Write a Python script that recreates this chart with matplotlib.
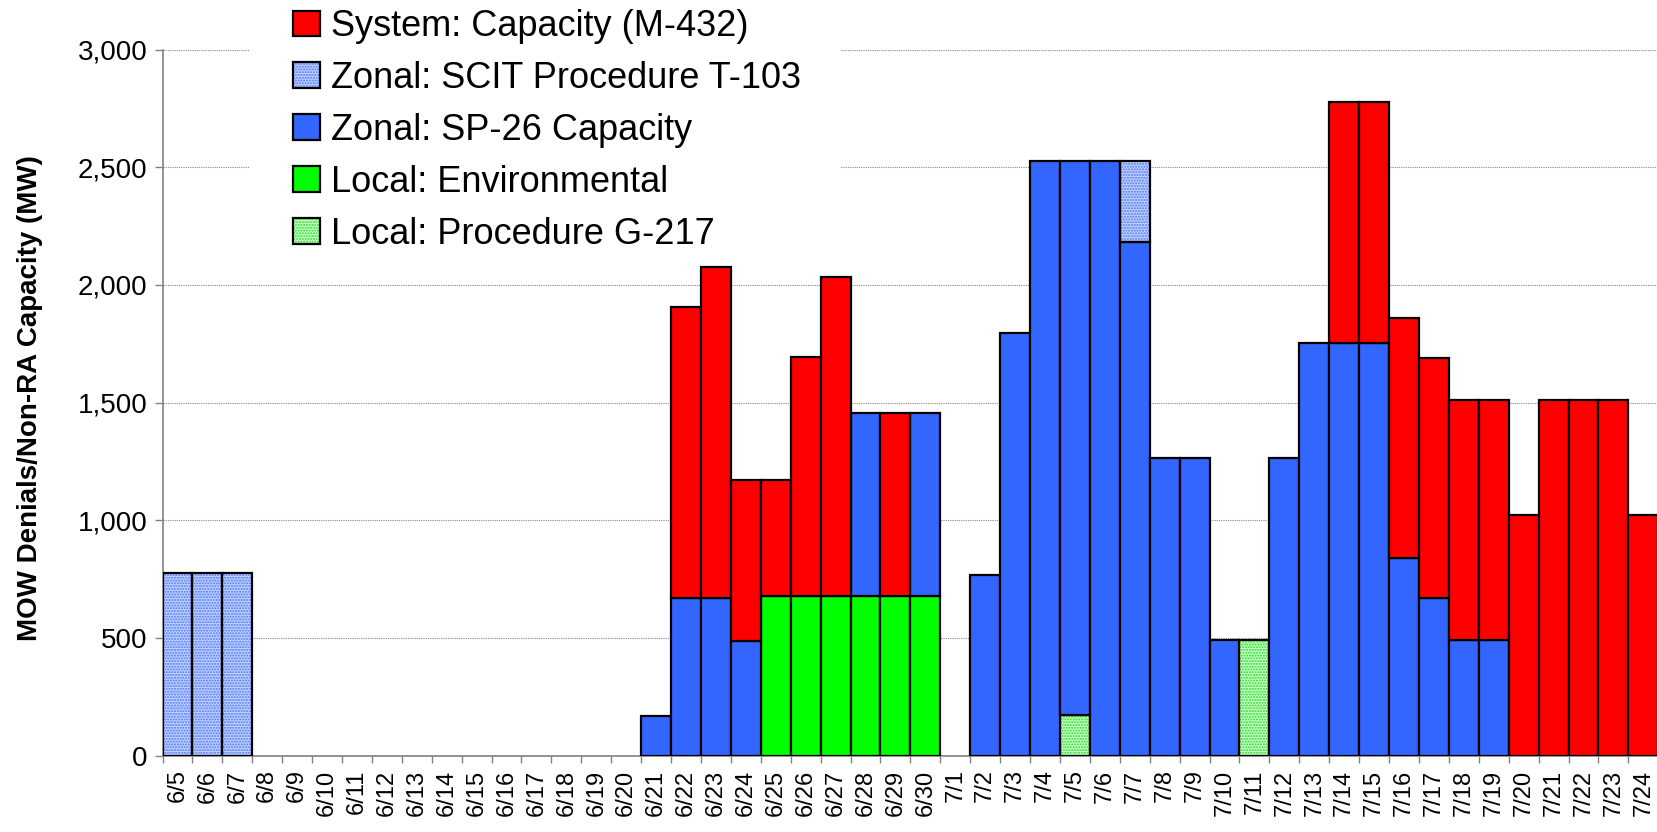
import matplotlib
matplotlib.use("Agg")
import matplotlib.pyplot as plt
import numpy as np
from matplotlib.patches import Patch, Rectangle
from matplotlib.ticker import FuncFormatter, MultipleLocator

plt.rcParams['font.family'] = ['Liberation Sans', 'DejaVu Sans']
plt.rcParams['hatch.linewidth'] = 1.0

dates = ["6/5", "6/6", "6/7", "6/8", "6/9", "6/10", "6/11", "6/12", "6/13", "6/14",
         "6/15", "6/16", "6/17", "6/18", "6/19", "6/20", "6/21", "6/22", "6/23", "6/24",
         "6/25", "6/26", "6/27", "6/28", "6/29", "6/30", "7/1", "7/2", "7/3", "7/4",
         "7/5", "7/6", "7/7", "7/8", "7/9", "7/10", "7/11", "7/12", "7/13", "7/14",
         "7/15", "7/16", "7/17", "7/18", "7/19", "7/20", "7/21", "7/22", "7/23", "7/24"]

# stack order bottom -> top
local_g217 = [0, 0, 0, 0, 0, 0, 0, 0, 0, 0,
              0, 0, 0, 0, 0, 0, 0, 0, 0, 0,
              0, 0, 0, 0, 0, 0, 0, 0, 0, 0,
              170, 0, 0, 0, 0, 0, 489, 0, 0, 0,
              0, 0, 0, 0, 0, 0, 0, 0, 0, 0]
local_env = [0, 0, 0, 0, 0, 0, 0, 0, 0, 0,
             0, 0, 0, 0, 0, 0, 0, 0, 0, 0,
             679, 679, 679, 679, 679, 679, 0, 0, 0, 0,
             0, 0, 0, 0, 0, 0, 0, 0, 0, 0,
             0, 0, 0, 0, 0, 0, 0, 0, 0, 0]
zonal_sp26 = [0, 0, 0, 0, 0, 0, 0, 0, 0, 0,
              0, 0, 0, 0, 0, 0, 168, 668, 668, 488,
              0, 0, 0, 777, 0, 777, 0, 767, 1797, 2528,
              2358, 2528, 2180, 1263, 1263, 489, 0, 1263, 1752, 1752,
              1752, 839, 669, 489, 489, 0, 0, 0, 0, 0]
zonal_scit = [775, 775, 775, 0, 0, 0, 0, 0, 0, 0,
              0, 0, 0, 0, 0, 0, 0, 0, 0, 0,
              0, 0, 0, 0, 0, 0, 0, 0, 0, 0,
              0, 0, 348, 0, 0, 0, 0, 0, 0, 0,
              0, 0, 0, 0, 0, 0, 0, 0, 0, 0]
system_cap = [0, 0, 0, 0, 0, 0, 0, 0, 0, 0,
              0, 0, 0, 0, 0, 0, 0, 1237, 1407, 683,
              492, 1013, 1353, 0, 777, 0, 0, 0, 0, 0,
              0, 0, 0, 0, 0, 0, 0, 0, 0, 1026,
              1026, 1021, 1022, 1020, 1020, 1023, 1509, 1509, 1509, 1023]

series = [
    ("Local: Procedure G-217", local_g217, dict(fc="#ccffcc", hatch="......", hc="#22dd22")),
    ("Local: Environmental", local_env, dict(fc="#00ff00", hatch=None, hc=None)),
    ("Zonal: SP-26 Capacity", zonal_sp26, dict(fc="#3366ff", hatch=None, hc=None)),
    ("Zonal: SCIT Procedure T-103", zonal_scit, dict(fc="#c2d1ff", hatch="......", hc="#4a78ff")),
    ("System: Capacity (M-432)", system_cap, dict(fc="#ff0000", hatch=None, hc=None)),
]

W, H = 1657, 832
fig = plt.figure(figsize=(W / 100, H / 100), dpi=100)
ax_left, ax_right = 162.5, 1658.3
ax_bottom, ax_top = 755.5, 49.5
ax = fig.add_axes([ax_left / W, 1 - ax_bottom / H, (ax_right - ax_left) / W, (ax_bottom - ax_top) / H])

x = np.arange(len(dates))
bottom = np.zeros(len(dates))
handles = {}
for name, vals, st in series:
    v = np.array(vals, dtype=float)
    mask = v > 0
    if st["hatch"]:
        ax.bar(x[mask], v[mask], bottom=bottom[mask], width=1.0, facecolor=st["fc"],
               edgecolor=st["hc"], hatch=st["hatch"], linewidth=0, zorder=2)
        ax.bar(x[mask], v[mask], bottom=bottom[mask], width=1.0, fill=False,
               edgecolor="black", linewidth=1.6, zorder=3)
        handles[name] = (Patch(facecolor=st["fc"], edgecolor=st["hc"], hatch=st["hatch"], linewidth=0),
                         Patch(fill=False, edgecolor="black", linewidth=1.6))
    else:
        ax.bar(x[mask], v[mask], bottom=bottom[mask], width=1.0, facecolor=st["fc"],
               edgecolor="black", linewidth=1.6, zorder=3)
        handles[name] = Patch(facecolor=st["fc"], edgecolor="black", linewidth=1.6)
    bottom += v

ax.set_xlim(-0.5, len(dates) - 0.5)
ax.set_ylim(0, 3000)
ax.yaxis.set_major_locator(MultipleLocator(500))
ax.yaxis.set_major_formatter(FuncFormatter(lambda v, p: f"{int(v):,}"))
ax.grid(axis="y", color="#888888", linestyle=(0, (1, 1)), linewidth=0.8, zorder=0)
ax.set_axisbelow(True)

ax.set_xticks(x)
ax.set_xticklabels(dates, rotation=90, fontsize=17)
ax.set_xticks(np.arange(-0.5, len(dates), 1.0), minor=True)
ax.tick_params(axis="x", which="major", length=0, pad=10)
ax.tick_params(axis="x", which="minor", length=5, width=1, color="#808080", direction="out")
ax.tick_params(axis="y", length=6, width=1, color="#808080", labelsize=20, pad=5)

for s in ["top", "right"]:
    ax.spines[s].set_visible(False)
for s in ["left", "bottom"]:
    ax.spines[s].set_color("#808080")
    ax.spines[s].set_linewidth(1.2)

fig.text(30 / W, 1 - 398 / H, "MOW Denials/Non-RA Capacity (MW)", rotation=90,
         ha="center", va="center", fontsize=20, fontweight="bold")

# white panel behind legend
fig.patches.append(Rectangle((250 / W, 1 - 245 / H), (840 - 250) / W, 245 / H,
                             transform=fig.transFigure, facecolor="white", edgecolor="none", zorder=1))

order = ["System: Capacity (M-432)", "Zonal: SCIT Procedure T-103", "Zonal: SP-26 Capacity",
         "Local: Environmental", "Local: Procedure G-217"]
leg = fig.legend([handles[n] for n in order], order, loc="upper left",
                 bbox_to_anchor=(293 / W, 1 - 9 / H), frameon=False, fontsize=26,
                 handlelength=0.75, handleheight=0.72, handletextpad=0.3,
                 labelspacing=0.47, borderpad=0, borderaxespad=0)
leg.set_zorder(5)

fig.savefig("out.png", dpi=100)
